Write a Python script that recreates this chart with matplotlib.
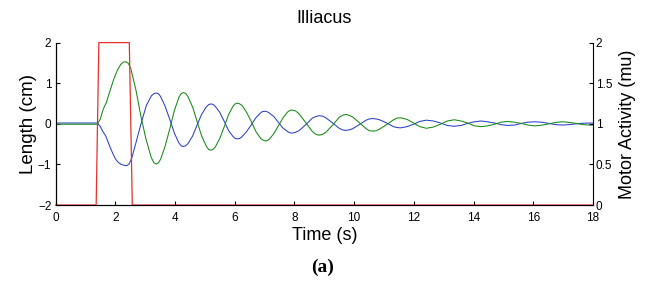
import matplotlib.pyplot as plt

plt.rcParams['font.family'] = ['Liberation Sans', 'DejaVu Sans']

green_pts = [(0.0, -0.01), (1.40, -0.01), (1.50, 0.12), (1.57, 0.30), (1.63, 0.42),
             (1.70, 0.52), (1.80, 0.76), (1.95, 1.10), (2.07, 1.32), (2.18, 1.46),
             (2.27, 1.52), (2.35, 1.53),
             (2.435, 1.49), (2.52, 1.36), (2.69, 0.84), (2.86, 0.18), (3.03, -0.38),
             (3.20, -0.82), (3.285, -0.95), (3.37, -0.99),
             (3.446, -0.96), (3.52, -0.87), (3.67, -0.55), (3.83, -0.11), (3.98, 0.33),
             (4.13, 0.65), (4.204, 0.74), (4.28, 0.77),
             (4.357, 0.75), (4.43, 0.675), (4.59, 0.415), (4.74, 0.06), (4.89, -0.295),
             (5.05, -0.555), (5.123, -0.63), (5.20, -0.65),
             (5.274, -0.63), (5.35, -0.57), (5.50, -0.36), (5.65, -0.07), (5.79, 0.22),
             (5.94, 0.43), (6.016, 0.49), (6.09, 0.51),
             (6.168, 0.49), (6.25, 0.45), (6.40, 0.28), (6.56, 0.05), (6.71, -0.19),
             (6.87, -0.36), (6.943, -0.40), (7.02, -0.42),
             (7.095, -0.41), (7.17, -0.37), (7.32, -0.23), (7.47, -0.04), (7.62, 0.15),
             (7.77, 0.29), (7.845, 0.33), (7.92, 0.34),
             (8.034, 0.32), (8.15, 0.25), (8.38, 0.03), (8.60, -0.19), (8.716, -0.26), (8.83, -0.28),
             (8.941, -0.26), (9.05, -0.21), (9.28, -0.03), (9.50, 0.16), (9.609, 0.21), (9.72, 0.23),
             (9.83, 0.21), (9.95, 0.17), (10.17, 0.03), (10.40, -0.12), (10.51, -0.17), (10.62, -0.18),
             (10.74, -0.17), (10.85, -0.13), (11.09, -0.02), (11.32, 0.10), (11.43, 0.14), (11.55, 0.15),
             (11.77, 0.11), (11.99, 0.02), (12.20, -0.07), (12.42, -0.11),
             (12.65, -0.08), (12.89, -0.01), (13.12, 0.07), (13.35, 0.10),
             (13.58, 0.07), (13.80, 0.02), (14.03, -0.05), (14.25, -0.07),
             (14.47, -0.05), (14.70, -0.01), (14.92, 0.04), (15.14, 0.06),
             (15.37, 0.04), (15.60, 0.01), (15.82, -0.03), (16.05, -0.05),
             (16.28, -0.035), (16.52, 0.0), (16.75, 0.035), (16.98, 0.05),
             (17.21, 0.035), (17.44, 0.01), (17.67, -0.02), (17.90, -0.03), (18.0, -0.03)]

blue_pts = [(0.0, 0.02), (1.40, 0.02), (1.50, -0.07), (1.57, -0.17), (1.68, -0.30),
            (1.76, -0.45), (1.84, -0.60), (1.93, -0.75), (2.01, -0.87), (2.10, -0.95),
            (2.18, -0.99), (2.28, -1.02), (2.38, -1.03),
            (2.46, -0.99), (2.55, -0.85), (2.71, -0.42), (2.88, 0.05), (3.04, 0.45),
            (3.21, 0.69), (3.29, 0.74), (3.37, 0.76),
            (3.446, 0.74), (3.52, 0.67), (3.67, 0.43), (3.83, 0.10), (3.98, -0.23),
            (4.13, -0.47), (4.204, -0.54), (4.28, -0.56),
            (4.357, -0.54), (4.43, -0.49), (4.59, -0.30), (4.74, -0.03), (4.89, 0.23),
            (5.05, 0.42), (5.123, 0.47), (5.20, 0.49),
            (5.274, 0.48), (5.35, 0.43), (5.50, 0.28), (5.65, 0.06), (5.79, -0.16),
            (5.94, -0.31), (6.016, -0.36), (6.09, -0.37),
            (6.166, -0.36), (6.24, -0.32), (6.39, -0.20), (6.55, -0.03), (6.70, 0.14),
            (6.85, 0.26), (6.924, 0.30), (7.00, 0.31),
            (7.077, 0.30), (7.15, 0.27), (7.31, 0.18), (7.46, 0.04), (7.61, -0.10),
            (7.77, -0.19), (7.843, -0.22), (7.92, -0.23),
            (8.034, -0.21), (8.15, -0.17), (8.38, -0.02), (8.60, 0.14), (8.716, 0.18), (8.83, 0.20),
            (8.941, 0.19), (9.05, 0.15), (9.28, 0.02), (9.50, -0.11), (9.609, -0.15), (9.72, -0.16),
            (9.83, -0.15), (9.95, -0.12), (10.17, -0.02), (10.40, 0.09), (10.51, 0.12), (10.62, 0.13),
            (10.74, 0.12), (10.85, 0.10), (11.09, 0.02), (11.32, -0.07), (11.43, -0.09), (11.55, -0.10),
            (11.77, -0.07), (11.99, -0.01), (12.20, 0.06), (12.42, 0.09),
            (12.65, 0.07), (12.89, 0.02), (13.12, -0.04), (13.35, -0.06),
            (13.58, -0.04), (13.80, 0.01), (14.03, 0.05), (14.25, 0.07),
            (14.47, 0.05), (14.70, 0.02), (14.92, -0.02), (15.14, -0.04),
            (15.37, -0.03), (15.60, 0.01), (15.82, 0.04), (16.05, 0.05),
            (16.28, 0.04), (16.52, 0.01), (16.75, -0.02), (16.98, -0.03),
            (17.21, -0.02), (17.44, 0.0), (17.67, 0.015), (17.90, 0.02), (18.0, 0.02)]

# motor activity pulse (mu)
t_motor = [0.0, 1.36, 1.45, 2.47, 2.57, 18.0]
motor = [0.0, 0.0, 2.0, 2.0, 0.0, 0.0]

t_green, green = zip(*green_pts)
t_blue, blue = zip(*blue_pts)

fig = plt.figure(figsize=(6.46, 2.84), dpi=100)
ax = fig.add_axes([0.086, 0.278, 0.832, 0.572])
ax2 = ax.twinx()

ax.plot(t_blue, blue, color='#2a3fc8', lw=0.75)
ax.plot(t_green, green, color='#158a15', lw=0.75)
ax2.plot(t_motor, motor, color='#e8302a', lw=0.9, clip_on=False)

ax.set_xlim(0, 18)
ax.set_ylim(-2, 2)
ax2.set_ylim(0, 2)
ax.set_xticks(range(0, 19, 2))
ax.set_yticks([-2, -1, 0, 1, 2])
ax2.set_yticks([0, 0.5, 1, 1.5, 2])
ax2.set_yticklabels(['0', '0.5', '1', '1.5', '2'])

for a in (ax, ax2):
    a.spines['top'].set_visible(False)
    a.tick_params(direction='in', length=3, width=0.8, labelsize=8.5, pad=2)
ax.spines['right'].set_visible(False)
ax.tick_params(axis='y', pad=3)
ax.tick_params(axis='x', pad=5)

ax.set_title('Illiacus', fontsize=13, pad=14)
ax.set_xlabel('Time (s)', fontsize=13, labelpad=2)
ax.set_ylabel('Length (cm)', fontsize=13.5, labelpad=1)
ax2.set_ylabel('Motor Activity (mu)', fontsize=13, labelpad=5)

fig.text(0.5, 0.06, '(a)', ha='center', va='center', fontsize=14,
         fontweight='bold', family='Liberation Serif')

fig.savefig('out.png', dpi=100)
